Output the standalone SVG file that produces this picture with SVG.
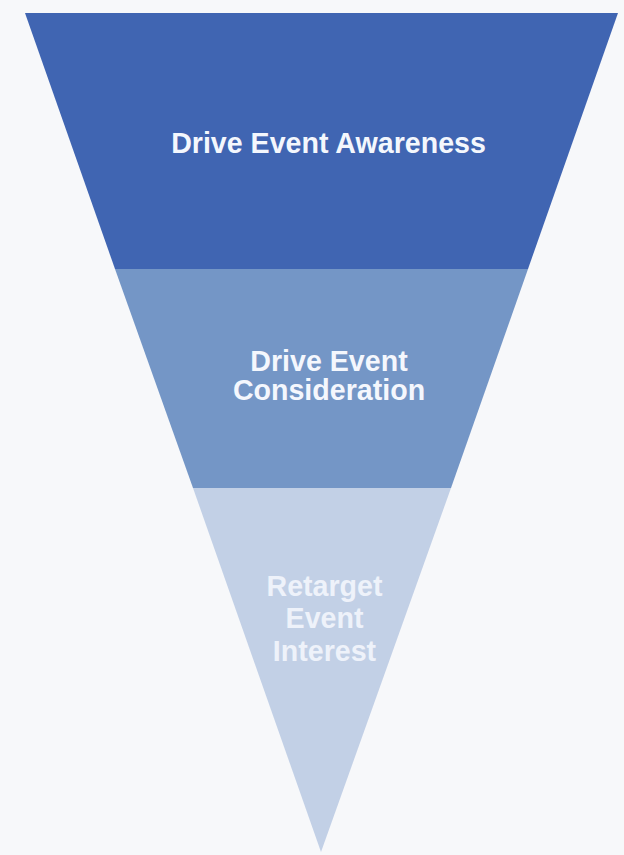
<svg xmlns="http://www.w3.org/2000/svg" width="624" height="855" viewBox="0 0 624 855">
<style>
.lbl{font-family:"Liberation Sans",Arial,sans-serif;font-weight:bold;font-size:28.6px;text-anchor:middle;fill:#f4f7fd}
.lbl3{fill:#eef2fa}
</style>
<rect x="0" y="0" width="624" height="855" fill="#f7f8fa"/>
<g id="stage-awareness">
<polygon points="25,13 618,13 528,269 115,269" fill="#4065b2"/>
<text class="lbl" x="328.5" y="153">Drive Event Awareness</text>
</g>
<g id="stage-consideration">
<polygon points="115,269 528,269 451,488 193,488" fill="#7496c6"/>
<text class="lbl" x="329" y="371">Drive Event</text>
<text class="lbl" x="329" y="400">Consideration</text>
</g>
<g id="stage-interest">
<polygon points="193,488 451,488 321,852" fill="#c2d0e6"/>
<text class="lbl lbl3" x="324.5" y="596">Retarget</text>
<text class="lbl lbl3" x="324.5" y="628">Event</text>
<text class="lbl lbl3" x="324.5" y="661">Interest</text>
</g>
<g id="connectors"/>
</svg>
